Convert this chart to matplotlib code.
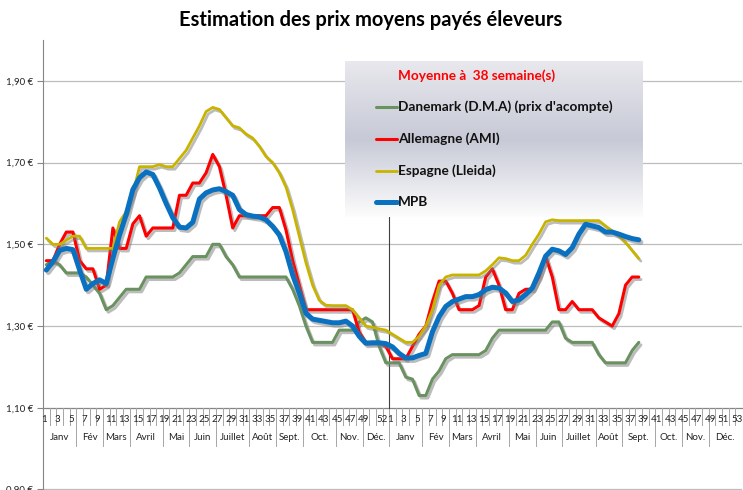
import numpy as np
import matplotlib
matplotlib.use("Agg")
import matplotlib.pyplot as plt
import matplotlib.patheffects as pe

plt.rcParams['font.family'] = ['Lato', 'DejaVu Sans']

# weekly prices, year 1 week 1 .. year 2 week 38
danemark = [1.45, 1.46, 1.45, 1.43, 1.43, 1.43, 1.42, 1.40, 1.38, 1.34,
            1.35, 1.37, 1.39, 1.39, 1.39, 1.42, 1.42, 1.42, 1.42, 1.42,
            1.43, 1.45, 1.47, 1.47, 1.47, 1.50, 1.50, 1.47, 1.45, 1.42,
            1.42, 1.42, 1.42, 1.42, 1.42, 1.42, 1.42, 1.39, 1.35, 1.30,
            1.26, 1.26, 1.26, 1.26, 1.29, 1.29, 1.29, 1.31, 1.32, 1.31,
            1.25, 1.21, 1.21, 1.21, 1.175, 1.17, 1.13, 1.13, 1.17, 1.19,
            1.22, 1.23, 1.23, 1.23, 1.23, 1.23, 1.24, 1.27, 1.29, 1.29,
            1.29, 1.29, 1.29, 1.29, 1.29, 1.29, 1.31, 1.31, 1.27, 1.26,
            1.26, 1.26, 1.26, 1.23, 1.21, 1.21, 1.21, 1.21, 1.24, 1.26]
allemagne = [1.46, 1.46, 1.50, 1.53, 1.53, 1.46, 1.44, 1.44, 1.39, 1.40,
             1.54, 1.49, 1.49, 1.55, 1.57, 1.52, 1.54, 1.54, 1.54, 1.54,
             1.62, 1.62, 1.65, 1.65, 1.675, 1.72, 1.69, 1.62, 1.54, 1.57,
             1.57, 1.57, 1.57, 1.57, 1.59, 1.59, 1.535, 1.46, 1.40, 1.34,
             1.34, 1.34, 1.34, 1.34, 1.34, 1.34, 1.34, 1.285, 1.26, 1.26,
             1.26, 1.25, 1.22, 1.22, 1.22, 1.25, 1.28, 1.30, 1.36, 1.41,
             1.41, 1.38, 1.34, 1.34, 1.34, 1.35, 1.42, 1.44, 1.40, 1.34,
             1.34, 1.38, 1.39, 1.39, 1.42, 1.47, 1.42, 1.34, 1.34, 1.36,
             1.34, 1.34, 1.34, 1.32, 1.31, 1.30, 1.33, 1.40, 1.42, 1.42]
espagne = [1.515, 1.50, 1.50, 1.51, 1.52, 1.52, 1.49, 1.49, 1.49, 1.49,
           1.49, 1.555, 1.58, 1.625, 1.69, 1.69, 1.69, 1.695, 1.69, 1.69,
           1.71, 1.73, 1.76, 1.79, 1.825, 1.835, 1.83, 1.81, 1.79, 1.785,
           1.77, 1.76, 1.74, 1.715, 1.70, 1.675, 1.64, 1.585, 1.52, 1.455,
           1.40, 1.363, 1.351, 1.35, 1.35, 1.35, 1.34, 1.32, 1.30, 1.297,
           1.293, 1.29, 1.28, 1.27, 1.26, 1.26, 1.275, 1.30, 1.34, 1.40,
           1.42, 1.425, 1.425, 1.425, 1.425, 1.425, 1.435, 1.45, 1.467, 1.465,
           1.46, 1.46, 1.473, 1.50, 1.525, 1.555, 1.56, 1.558, 1.558, 1.558,
           1.558, 1.558, 1.558, 1.558, 1.545, 1.533, 1.52, 1.505, 1.485, 1.465]
mpb = [1.437, 1.458, 1.485, 1.49, 1.487, 1.437, 1.39, 1.404, 1.413, 1.404,
       1.466, 1.523, 1.573, 1.634, 1.663, 1.677, 1.671, 1.638, 1.60, 1.565,
       1.542, 1.54, 1.554, 1.611, 1.626, 1.633, 1.636, 1.629, 1.62, 1.585,
       1.573, 1.569, 1.567, 1.56, 1.544, 1.523, 1.482, 1.425, 1.38, 1.331,
       1.317, 1.314, 1.311, 1.308, 1.308, 1.312, 1.30, 1.275, 1.258, 1.259,
       1.259, 1.257, 1.249, 1.233, 1.222, 1.222, 1.228, 1.233, 1.286, 1.323,
       1.348, 1.36, 1.366, 1.372, 1.372, 1.377, 1.389, 1.395, 1.393, 1.381,
       1.36, 1.364, 1.377, 1.393, 1.43, 1.471, 1.488, 1.484, 1.475, 1.492,
       1.525, 1.549, 1.545, 1.541, 1.53, 1.53, 1.525, 1.519, 1.514, 1.511]

series_names = ["Danemark (D.M.A) (prix d'acompte)", "Allemagne (AMI)",
                "Espagne (Lleida)", "MPB"]
series_colors = ["#6a9160", "#ff0000", "#c8b400", "#0a70c0"]
series_widths = [2.2, 2.2, 2.0, 3.6]

months = ["Janv", "Fév", "Mars", "Avril", "Mai", "Juin", "Juillet", "Août",
          "Sept.", "Oct.", "Nov.", "Déc."]
weeks_y1 = [5, 4, 4, 5, 4, 4, 5, 4, 4, 5, 4, 4]   # 52 weeks
weeks_y2 = [5, 4, 4, 5, 4, 4, 5, 4, 5, 4, 4, 5]   # 53 weeks
week_nums = list(range(1, 53)) + list(range(1, 54))
shown_y1 = [w for w in range(1, 50, 2)] + [52]
shown_y2 = list(range(1, 54, 2))

W, H = 743, 490
fig = plt.figure(figsize=(W / 100, H / 100), dpi=100)
ax = fig.add_axes([43 / W, 0.5 / H, 699 / W, 449.5 / H])
n_cat = len(week_nums)
ax.set_xlim(-0.5, n_cat - 0.5)
ax.set_ylim(0.90, 2.00)
px = 0.2 / 81.5  # value per pixel

yt = [0.90, 1.10, 1.30, 1.50, 1.70, 1.90]
ax.set_yticks(yt)
ax.set_yticklabels([("%.2f €" % v).replace(".", ",") for v in yt],
                   fontsize=7, color="#222222")
ax.tick_params(axis="y", length=4, color="#868686", pad=3)
ax.set_xticks([])
for s in ["top", "right", "bottom"]:
    ax.spines[s].set_visible(False)
ax.spines["left"].set_color("#868686")
for v in yt:
    if v != 1.10:
        ax.axhline(v, color="#bdbdbd", lw=0.9, zorder=0)

# category axis crossing at 1.10
ax.plot([-0.5, n_cat - 0.5], [1.10, 1.10], color="#868686", lw=0.9,
        zorder=1, clip_on=False)
for k in range(n_cat + 1):
    ax.plot([k - 0.5, k - 0.5], [1.10, 1.10 - 17 * px], color="#a6a6a6",
            lw=0.7, zorder=1)

# month groups
start = 0
for sizes in (weeks_y1, weeks_y2):
    for m, n in zip(months, sizes):
        ax.plot([start - 0.5, start - 0.5], [1.10, 1.10 - 38 * px],
                color="#a6a6a6", lw=0.7, zorder=1)
        ax.text(start + n / 2 - 0.5, 1.10 - 30 * px, m, ha="center",
                va="center", fontsize=7, color="#222222")
        start += n
ax.plot([start - 0.5, start - 0.5], [1.10, 1.10 - 38 * px],
        color="#a6a6a6", lw=0.7, zorder=1)

for i, w in enumerate(week_nums):
    if (i < 52 and w in shown_y1) or (i >= 52 and w in shown_y2):
        off = -0.55 if i == 51 else -0.3
        ax.text(i + off, 1.10 - 12 * px, str(w), ha="center", va="center",
                fontsize=7, color="#222222")

# year separator
ax.plot([51.5, 51.5], [1.10, 1.60], color="#404040", lw=0.8, zorder=2)

x = np.arange(len(mpb))
shadow = [pe.SimpleLineShadow(offset=(1.5, -1.8), shadow_color="#7a7a7a",
                              alpha=0.5), pe.Normal()]
for vals, c, lw in zip([danemark, allemagne, espagne, mpb], series_colors,
                       series_widths):
    ax.plot(x, vals, color=c, lw=lw, solid_joinstyle="round",
            solid_capstyle="round", path_effects=shadow, zorder=3)

# legend box with gradient
lx0, lx1, ly0, ly1 = 345, 643, 61, 217
lax = fig.add_axes([lx0 / W, 1 - ly1 / H, (lx1 - lx0) / W, (ly1 - ly0) / H])
t = np.linspace(0, 1, 200)
top = np.array([0.91, 0.91, 0.93])
mid = np.array([0.78, 0.79, 0.84])
bot = np.array([0.99, 0.99, 0.99])
grad = np.where(t[:, None] < 0.5,
                top + (mid - top) * (t[:, None] / 0.5),
                mid + (bot - mid) * ((t[:, None] - 0.5) / 0.5))
lax.imshow(grad[:, None, :], aspect="auto", extent=[0, 1, 0, 1])
lax.set_axis_off()

fig.text(398 / W, 1 - 76 / H, "Moyenne à  38 semaine(s)", color="#ff0000",
         fontsize=9.8, fontweight="bold", va="center")
rows = [107, 139, 171, 202]
for name, c, lw, ry in zip(series_names, series_colors, series_widths, rows):
    fig.add_artist(plt.Line2D([376 / W, 397 / W], [1 - ry / H, 1 - ry / H],
                              color=c, lw=lw, solid_capstyle="round"))
    fig.text(398 / W, 1 - ry / H, name, fontsize=9.8, fontweight="bold",
             va="center", color="#111111")

fig.text(371 / W, 1 - 20 / H, "Estimation des prix moyens payés éleveurs",
         ha="center", va="center", fontsize=14.5, fontweight="bold")

fig.savefig("out.png", dpi=100)
